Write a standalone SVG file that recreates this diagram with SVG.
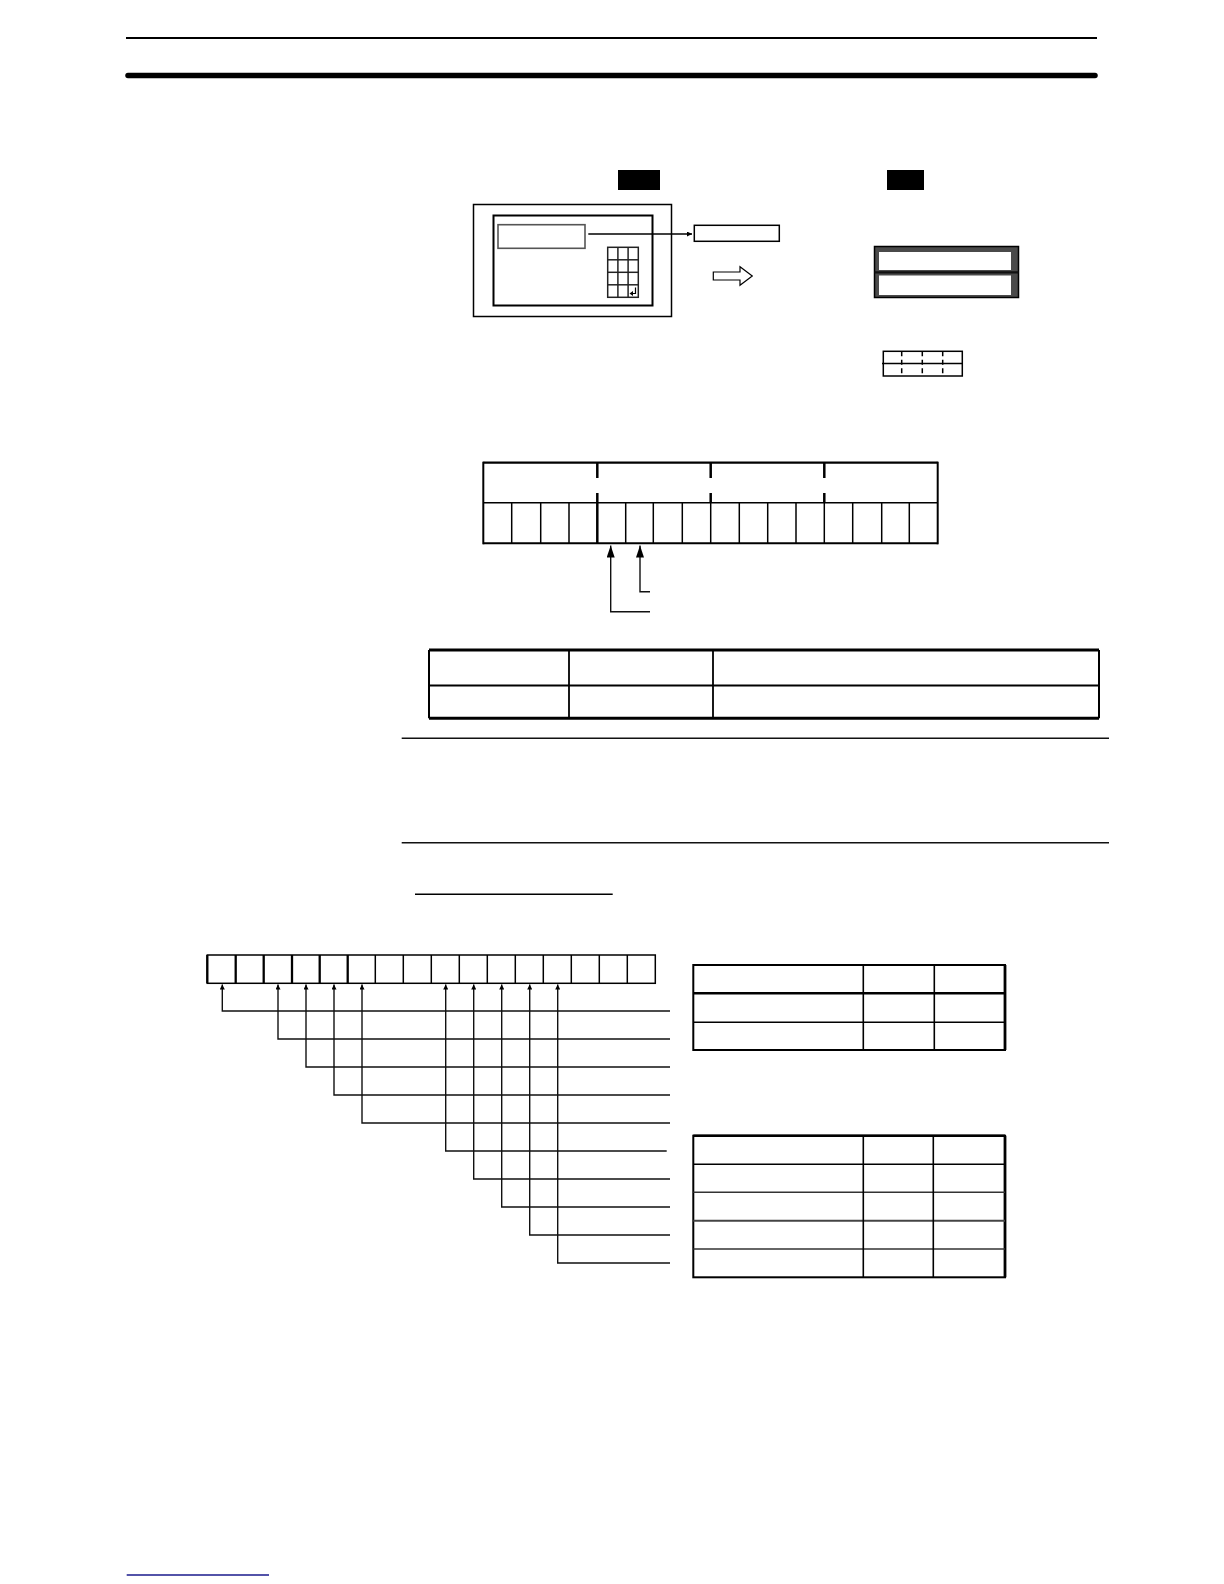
<svg xmlns="http://www.w3.org/2000/svg" width="1224" height="1584" viewBox="0 0 1224 1584">
<defs>
<style>
.k{fill:none;stroke:#000;stroke-width:1.5}
.k2{fill:none;stroke:#000;stroke-width:2}
.k3{fill:none;stroke:#000;stroke-width:3}
.w{fill:#fff;stroke:#000;stroke-width:1.5}
.c{fill:none;stroke:#111;stroke-width:1.4}
.blk{fill:#000}
</style>
<marker id="ah" viewBox="0 0 12 8" refX="12" refY="4" markerWidth="12" markerHeight="8" markerUnits="userSpaceOnUse" orient="auto"><path d="M0,0 L12,4 L0,8 Z" fill="#000"/></marker>
<marker id="ahs" viewBox="0 0 10 10" refX="10" refY="5" markerWidth="6" markerHeight="5" markerUnits="userSpaceOnUse" orient="auto"><path d="M0,0 L10,5 L0,10 Z" fill="#000"/></marker>
</defs>
<rect width="1224" height="1584" fill="#fff"/>

<g id="header">
<line x1="126" y1="38" x2="1097" y2="38" stroke="#000" stroke-width="2"/>
<line x1="128" y1="75.5" x2="1095" y2="75.5" stroke="#000" stroke-width="5.5" stroke-linecap="round"/>
</g>

<g id="terminal">
<rect class="blk" x="618" y="170" width="42" height="20"/>
<rect class="k" x="473.5" y="204.5" width="198" height="112"/>
<rect class="k2" x="493.5" y="215.5" width="159" height="90"/>
<rect x="498" y="224.7" width="87" height="23.6" fill="#fff" stroke="#555" stroke-width="1.6"/>
<g id="keypad" fill="none" stroke="#222" stroke-width="1.5">
<rect x="607.7" y="247.3" width="30.6" height="50"/>
<line x1="617.9" y1="247.3" x2="617.9" y2="297.3"/>
<line x1="628.1" y1="247.3" x2="628.1" y2="297.3"/>
<line x1="607.7" y1="259.8" x2="638.3" y2="259.8"/>
<line x1="607.7" y1="272.3" x2="638.3" y2="272.3"/>
<line x1="607.7" y1="284.8" x2="638.3" y2="284.8"/>
</g>
<path d="M635.5,287.5 V293.5 H632.5" fill="none" stroke="#000" stroke-width="1.2"/>
<path d="M629.5,293.5 L633,291 L633,296 Z" fill="#000"/>
</g>

<g id="field-box">
<rect class="k" x="694.3" y="225.3" width="85" height="16"/>
</g>

<g id="hollow-arrow">
<polygon points="713.3,272 740,272 740,266.7 752.3,276 740,285.3 740,280 713.3,280" fill="#fff" stroke="#000" stroke-width="1.2"/>
</g>

<g id="display">
<rect class="blk" x="887" y="170" width="37" height="20"/>
<rect x="874.5" y="246.5" width="144" height="51" fill="#4a4a4a" stroke="#000" stroke-width="1.5"/>
<rect x="879" y="252" width="132" height="18" fill="#fff"/>
<rect x="879" y="275.5" width="132" height="19.5" fill="#fff"/>
<line x1="874.5" y1="272.3" x2="1018.5" y2="272.3" stroke="#111" stroke-width="2.2"/>
</g>

<g id="small-grid">
<rect class="k" x="883.3" y="351.3" width="79" height="24.7"/>
<line x1="882" y1="363.5" x2="962.3" y2="363.5" stroke="#000" stroke-width="1.5"/>
<g stroke="#000" stroke-width="1.5" stroke-dasharray="5,3.5">
<line x1="901.7" y1="351.3" x2="901.7" y2="376"/>
<line x1="922.3" y1="351.3" x2="922.3" y2="376"/>
<line x1="942.7" y1="351.3" x2="942.7" y2="376"/>
</g>
</g>

<g id="register-word">
<line x1="483.3" y1="462.7" x2="937.7" y2="462.7" stroke="#000" stroke-width="2.2"/>
<line x1="483.3" y1="502.7" x2="937.7" y2="502.7" stroke="#000" stroke-width="1.5"/>
<line x1="483.3" y1="543.3" x2="937.7" y2="543.3" stroke="#000" stroke-width="2"/>
<line x1="483.3" y1="461.7" x2="483.3" y2="544.3" stroke="#000" stroke-width="2"/>
<line x1="937.7" y1="461.7" x2="937.7" y2="544.3" stroke="#000" stroke-width="2"/>
<g stroke="#000" stroke-width="2.5">
<line x1="597.3" y1="462" x2="597.3" y2="478"/><line x1="597.3" y1="493" x2="597.3" y2="544"/>
<line x1="710.7" y1="462" x2="710.7" y2="478"/><line x1="710.7" y1="493" x2="710.7" y2="503"/>
<line x1="824.3" y1="462" x2="824.3" y2="478"/><line x1="824.3" y1="493" x2="824.3" y2="503"/>
</g>
<g stroke="#000" stroke-width="1.5">
<line x1="511.7" y1="502.7" x2="511.7" y2="543.3"/>
<line x1="540.7" y1="502.7" x2="540.7" y2="543.3"/>
<line x1="569" y1="502.7" x2="569" y2="543.3"/>
<line x1="625.7" y1="502.7" x2="625.7" y2="543.3"/>
<line x1="653.3" y1="502.7" x2="653.3" y2="543.3"/>
<line x1="682.3" y1="502.7" x2="682.3" y2="543.3"/>
<line x1="710.7" y1="502.7" x2="710.7" y2="543.3"/>
<line x1="739.3" y1="502.7" x2="739.3" y2="543.3"/>
<line x1="767.7" y1="502.7" x2="767.7" y2="543.3"/>
<line x1="796" y1="502.7" x2="796" y2="543.3"/>
<line x1="824.3" y1="502.7" x2="824.3" y2="543.3"/>
<line x1="852.7" y1="502.7" x2="852.7" y2="543.3"/>
<line x1="881.7" y1="502.7" x2="881.7" y2="543.3"/>
<line x1="909.3" y1="502.7" x2="909.3" y2="543.3"/>
</g>
</g>

<g id="table-top">
<line x1="429" y1="650" x2="1099" y2="650" stroke="#000" stroke-width="3"/>
<line x1="429" y1="685.5" x2="1099" y2="685.5" stroke="#000" stroke-width="1.8"/>
<line x1="429" y1="718.3" x2="1099" y2="718.3" stroke="#000" stroke-width="3"/>
<line x1="429" y1="650" x2="429" y2="718.3" stroke="#000" stroke-width="2"/>
<line x1="569" y1="650" x2="569" y2="718.3" stroke="#000" stroke-width="1.8"/>
<line x1="713" y1="650" x2="713" y2="718.3" stroke="#000" stroke-width="1.8"/>
<line x1="1099" y1="650" x2="1099" y2="718.3" stroke="#000" stroke-width="2"/>
</g>

<g id="rules">
<line x1="401.7" y1="738.3" x2="1109" y2="738.3" stroke="#111" stroke-width="1.5"/>
<line x1="401.7" y1="842.7" x2="1109" y2="842.7" stroke="#111" stroke-width="1.5"/>
<line x1="415" y1="894.3" x2="612.7" y2="894.3" stroke="#000" stroke-width="1.5"/>
</g>

<g id="register-bits">
<rect class="k" x="207.3" y="955" width="448" height="28.3"/>
<g stroke="#000" stroke-width="1.5">
<line x1="375.3" y1="955" x2="375.3" y2="983.3"/>
<line x1="403.3" y1="955" x2="403.3" y2="983.3"/>
<line x1="431.3" y1="955" x2="431.3" y2="983.3"/>
<line x1="459.3" y1="955" x2="459.3" y2="983.3"/>
<line x1="487.3" y1="955" x2="487.3" y2="983.3"/>
<line x1="515.3" y1="955" x2="515.3" y2="983.3"/>
<line x1="543.3" y1="955" x2="543.3" y2="983.3"/>
<line x1="571.3" y1="955" x2="571.3" y2="983.3"/>
<line x1="599.3" y1="955" x2="599.3" y2="983.3"/>
<line x1="627.3" y1="955" x2="627.3" y2="983.3"/>
</g>
<g stroke="#000" stroke-width="2.3">
<line x1="207.3" y1="955" x2="207.3" y2="983.3"/>
<line x1="235.7" y1="955" x2="235.7" y2="983.3"/>
<line x1="263.7" y1="955" x2="263.7" y2="983.3"/>
<line x1="292" y1="955" x2="292" y2="983.3"/>
<line x1="319.7" y1="955" x2="319.7" y2="983.3"/>
<line x1="347.7" y1="955" x2="347.7" y2="983.3"/>
</g>
</g>

<g id="table-1">
<rect class="k2" x="693.3" y="965" width="311.7" height="85"/>
<line x1="1005" y1="965" x2="1005" y2="1050" stroke="#000" stroke-width="2.8"/>
<line x1="693.3" y1="993.3" x2="1005" y2="993.3" stroke="#000" stroke-width="2.6"/>
<line x1="693.3" y1="1022.3" x2="1005" y2="1022.3" stroke="#000" stroke-width="1.6"/>
<line x1="863.3" y1="965" x2="863.3" y2="1050" stroke="#000" stroke-width="1.6"/>
<line x1="934.3" y1="965" x2="934.3" y2="1050" stroke="#000" stroke-width="1.6"/>
</g>

<g id="table-2">
<rect class="k2" x="693.3" y="1135.7" width="311.7" height="141.6"/>
<line x1="693.3" y1="1135.7" x2="1005" y2="1135.7" stroke="#000" stroke-width="2.6"/>
<line x1="1005" y1="1135.7" x2="1005" y2="1277.3" stroke="#000" stroke-width="2.8"/>
<line x1="693.3" y1="1164.3" x2="1005" y2="1164.3" stroke="#000" stroke-width="1.6"/>
<line x1="693.3" y1="1192.3" x2="1005" y2="1192.3" stroke="#333" stroke-width="1.6"/>
<line x1="693.3" y1="1220.7" x2="1005" y2="1220.7" stroke="#444" stroke-width="2"/>
<line x1="693.3" y1="1249" x2="1005" y2="1249" stroke="#333" stroke-width="1.6"/>
<line x1="863.3" y1="1135.7" x2="863.3" y2="1277.3" stroke="#000" stroke-width="1.6"/>
<line x1="933.3" y1="1135.7" x2="933.3" y2="1277.3" stroke="#000" stroke-width="1.6"/>
</g>

<g id="connectors">
<line x1="588.3" y1="234" x2="692" y2="234" stroke="#000" stroke-width="1.3" marker-end="url(#ahs)"/>
<path d="M650,611.7 H610.7 V545.5" class="c" marker-end="url(#ah)"/>
<path d="M650,591.7 H640 V545.5" class="c" marker-end="url(#ah)"/>
<g class="c" fill="none">
<path d="M670,1011 H222.3 V984.5" marker-end="url(#ahs)"/>
<path d="M670,1039 H278 V984.5" marker-end="url(#ahs)"/>
<path d="M670,1067 H306 V984.5" marker-end="url(#ahs)"/>
<path d="M670,1095 H334 V984.5" marker-end="url(#ahs)"/>
<path d="M670,1123 H362 V984.5" marker-end="url(#ahs)"/>
<path d="M666.7,1151 H445.7 V984.5" marker-end="url(#ahs)"/>
<path d="M670,1179 H473.7 V984.5" marker-end="url(#ahs)"/>
<path d="M670,1207 H501.7 V984.5" marker-end="url(#ahs)"/>
<path d="M670,1235 H529.7 V984.5" marker-end="url(#ahs)"/>
<path d="M670,1263 H557.7 V984.5" marker-end="url(#ahs)"/>
</g>
</g>

<g id="footer">
<line x1="126.7" y1="1575" x2="269" y2="1575" stroke="#1a1a8c" stroke-width="1.5"/>
</g>
</svg>
